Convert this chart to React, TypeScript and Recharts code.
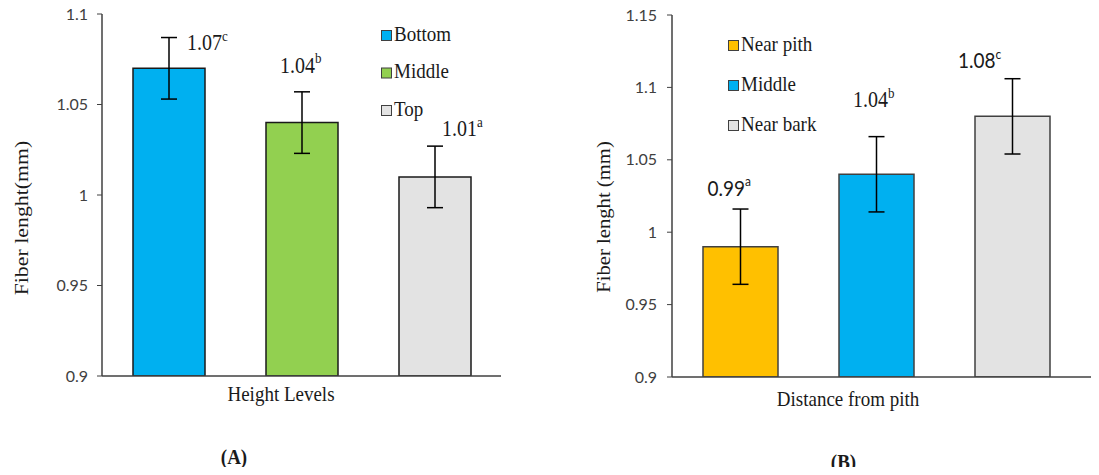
import React from 'react';
import { BarChart, Bar, XAxis, YAxis, ErrorBar, Cell, LabelList } from 'recharts';

const categoriesA = ['Bottom', 'Middle', 'Top'];
const valuesA = [1.07, 1.04, 1.01];
const errorsA = [0.017, 0.017, 0.017];
const lettersA = ['c', 'b', 'a'];
const colorsA = ['#00B0F0', '#92D050', '#E3E3E3'];
const ticksA = [0.9, 0.95, 1, 1.05, 1.1];

const categoriesB = ['Near pith', 'Middle', 'Near bark'];
const valuesB = [0.99, 1.04, 1.08];
const errorsB = [0.026, 0.026, 0.026];
const lettersB = ['a', 'b', 'c'];
const colorsB = ['#FFC000', '#00B0F0', '#E3E3E3'];
const ticksB = [0.9, 0.95, 1, 1.05, 1.1, 1.15];

const dataA = categoriesA.map((name, i) => ({ name, value: valuesA[i], err: errorsA[i] }));
const dataB = categoriesB.map((name, i) => ({ name, value: valuesB[i], err: errorsB[i] }));

const SERIF = 'Liberation Serif';
const SANS = 'Lato';
const VS = 1.15;

type LabelStyle = { dx: number; dy: number; font: string; size: number };

const labelStyleA: LabelStyle[] = [
  { dx: 18, dy: -18, font: SERIF, size: 20 },
  { dx: -22, dy: -50, font: SERIF, size: 20 },
  { dx: 7, dy: -41, font: SERIF, size: 20 },
];
const labelStyleB: LabelStyle[] = [
  { dx: -33, dy: -51, font: SANS, size: 19 },
  { dx: -23.5, dy: -67, font: SERIF, size: 20 },
  { dx: -54.5, dy: -48, font: SANS, size: 19 },
];

function makeLabel(letters: string[], styles: LabelStyle[]) {
  return (props: any) => {
    const { x, y, width, index, value } = props;
    const s = styles[index];
    const cx = Number(x) + Number(width) / 2;
    return (
      <text
        transform={`translate(${cx + s.dx},${Number(y) + s.dy}) scale(1,${VS})`}
        x={0}
        y={0}
        fontFamily={s.font}
        fontSize={s.size}
        fill="#1a1a1a"
        textAnchor="start"
      >
        {value}
        <tspan fontSize={Math.round(s.size * 0.65)} dy={-8}>
          {letters[index]}
        </tspan>
      </text>
    );
  };
}

const axisStroke = { stroke: '#404040', strokeWidth: 1.5 };
const tickStyle = { fontFamily: SANS, fontSize: 16, fill: '#404040' };

function LegendSvg({ x, y, step, names, colors }: { x: number; y: number; step: number; names: string[]; colors: string[] }) {
  return (
    <g>
      {names.map((n, i) => (
        <g key={n}>
          <rect x={x + 0.5} y={y + i * step + 0.5} width={10} height={10} fill={colors[i]} stroke="#404040" strokeWidth={1} />
          <text
            transform={`translate(${x + 13},${y + i * step + 10.5}) scale(1,${VS})`}
            fontFamily={SERIF}
            fontSize={19}
            fill="#1a1a1a"
          >
            {n}
          </text>
        </g>
      ))}
    </g>
  );
}

export default function App() {
  return (
    <div style={{ position: 'relative', width: 1099, height: 475, margin: -8, overflow: 'hidden', background: '#fff' }}>
      <div style={{ position: 'absolute', left: 0, top: 0 }}>
        <BarChart width={520} height={400} data={dataA} margin={{ top: 14, right: 19, left: 0, bottom: 14 }}>
          <XAxis dataKey="name" tick={false} tickLine={false} height={10} axisLine={axisStroke} />
          <XAxis xAxisId="top" dataKey="name" orientation="top" tick={false} tickLine={false} height={0} axisLine={axisStroke} />
          <YAxis
            width={102}
            domain={[0.9, 1.1]}
            ticks={ticksA}
            interval={0}
            tick={tickStyle}
            tickSize={5}
            tickMargin={9}
            tickLine={{ stroke: '#404040' }}
            axisLine={axisStroke}
            allowDataOverflow
          />
          <YAxis yAxisId="right" orientation="right" width={0} tick={false} tickLine={false} axisLine={axisStroke} />
          <Bar dataKey="value" barSize={72} stroke="#1a1a1a" strokeWidth={1.5} isAnimationActive={false}>
            {dataA.map((d, i) => (
              <Cell key={d.name} fill={colorsA[i]} />
            ))}
            <ErrorBar dataKey="err" direction="y" width={8} stroke="#000" strokeWidth={1.5} />
            <LabelList dataKey="value" content={makeLabel(lettersA, labelStyleA)} />
          </Bar>
        </BarChart>
      </div>

      <div style={{ position: 'absolute', left: 550, top: 0 }}>
        <BarChart width={569} height={400} data={dataB} margin={{ top: 15, right: 0, left: 0, bottom: 13 }}>
          <XAxis dataKey="name" tick={false} tickLine={false} height={10} axisLine={axisStroke} padding={{ left: 0, right: 39 }} />
          <XAxis xAxisId="top" dataKey="name" orientation="top" tick={false} tickLine={false} height={0} axisLine={axisStroke} padding={{ left: 0, right: 39 }} />
          <YAxis
            width={122}
            domain={[0.9, 1.15]}
            ticks={ticksB}
            interval={0}
            tick={tickStyle}
            tickSize={5}
            tickMargin={10}
            tickLine={{ stroke: '#404040' }}
            axisLine={axisStroke}
            allowDataOverflow
          />
          <Bar dataKey="value" barSize={75} stroke="#404040" strokeWidth={1.5} isAnimationActive={false}>
            {dataB.map((d, i) => (
              <Cell key={d.name} fill={colorsB[i]} />
            ))}
            <ErrorBar dataKey="err" direction="y" width={8} stroke="#000" strokeWidth={1.5} />
            <LabelList dataKey="value" content={makeLabel(lettersB, labelStyleB)} />
          </Bar>
        </BarChart>
      </div>

      <svg width={1099} height={475} style={{ position: 'absolute', left: 0, top: 0, pointerEvents: 'none' }}>
        <LegendSvg x={381} y={30} step={37.5} names={categoriesA} colors={colorsA} />
        <LegendSvg x={728} y={40} step={40} names={categoriesB} colors={colorsB} />
        <text transform={`translate(28,218) rotate(-90) scale(${VS},1)`} textAnchor="middle" fontFamily={SERIF} fontSize={19} fill="#1a1a1a">
          Fiber lenght(mm)
        </text>
        <text transform={`translate(610,217) rotate(-90) scale(${VS},1)`} textAnchor="middle" fontFamily={SERIF} fontSize={18} fill="#1a1a1a">
          Fiber lenght (mm)
        </text>
        <text transform={`translate(281,401) scale(1,${VS})`} textAnchor="middle" fontFamily={SERIF} fontSize={19} fill="#1a1a1a">
          Height Levels
        </text>
        <text transform={`translate(848,406) scale(1,${VS})`} textAnchor="middle" fontFamily={SERIF} fontSize={19} fill="#1a1a1a">
          Distance from pith
        </text>
        <text transform={`translate(234,464) scale(1,${VS})`} textAnchor="middle" fontFamily={SERIF} fontSize={19} fontWeight="bold" fill="#1a1a1a">
          (A)
        </text>
        <text transform={`translate(843.5,469) scale(1,${VS})`} textAnchor="middle" fontFamily={SERIF} fontSize={19} fontWeight="bold" fill="#1a1a1a">
          (B)
        </text>
      </svg>
    </div>
  );
}
